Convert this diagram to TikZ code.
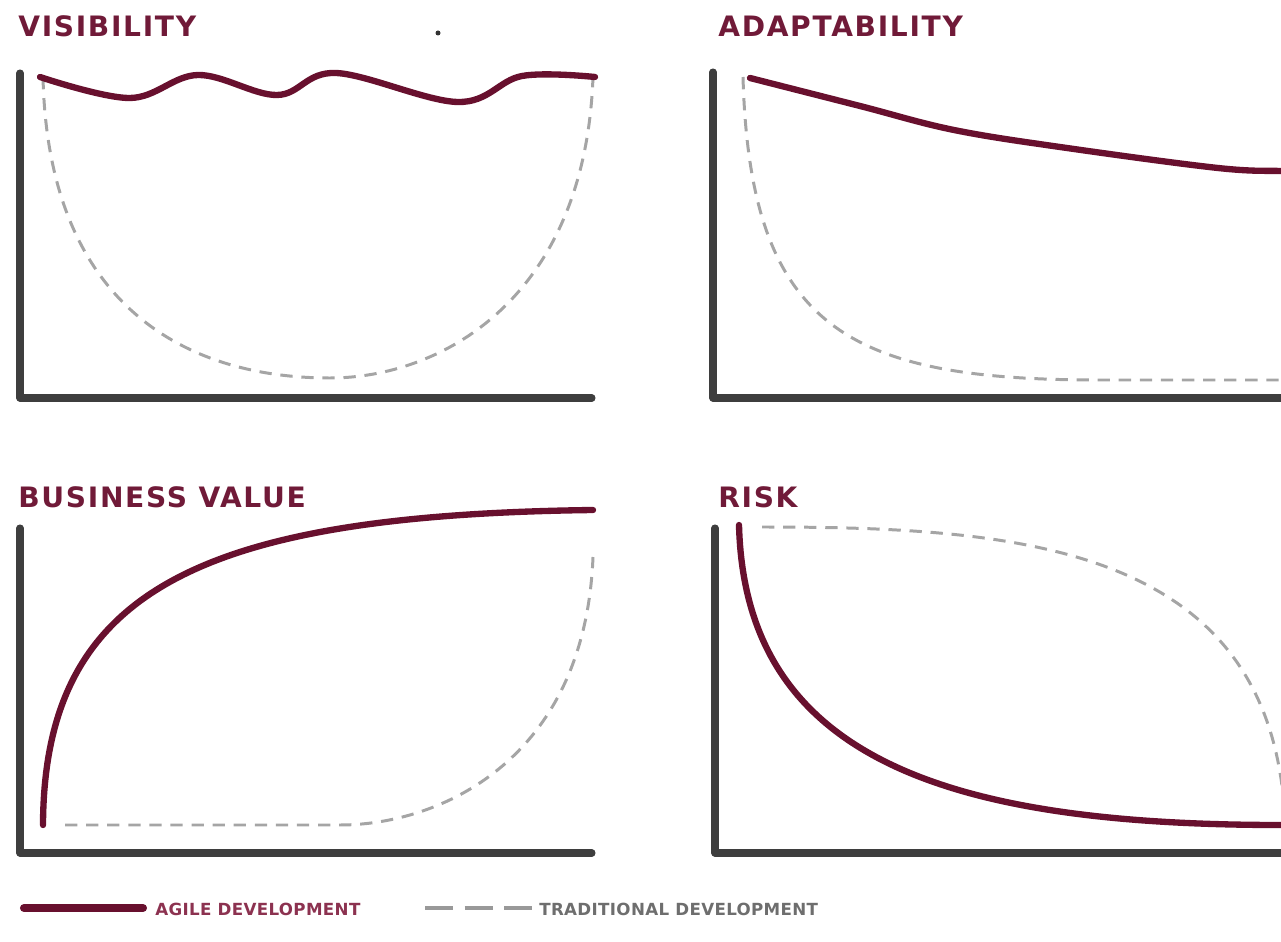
\documentclass[tikz,border=0pt]{standalone}
\usepackage{fontspec}
\setmainfont{DejaVu Sans}
\usetikzlibrary{positioning}

\definecolor{agile}{RGB}{104,16,46}
\definecolor{titlered}{RGB}{112,26,56}
\definecolor{tradgray}{RGB}{165,165,165}
\definecolor{axisgray}{RGB}{62,62,62}
\definecolor{legendred}{RGB}{140,50,80}
\definecolor{legendgray}{RGB}{110,110,110}

\begin{document}
\begin{tikzpicture}[x=0.02cm, y=-0.02cm,
    axisline/.style={draw=axisgray, line width=4pt, line cap=round, line join=round},
    agileline/.style={draw=agile, line width=3.6pt, line cap=round},
    tradline/.style={draw=tradgray, line width=1.7pt, dash pattern=on 7pt off 5pt},
    charttitle/.style={inner sep=0pt, anchor=base west, text=titlered,
        font=\fontsize{16}{18}\selectfont\bfseries\addfontfeature{LetterSpace=6}},
    legendtext/.style={inner sep=0pt, anchor=west,
        font=\fontsize{9.5}{11}\selectfont\bfseries\addfontfeature{LetterSpace=2}}]

    % canvas
    \useasboundingbox (0,0) rectangle (1281,942);
    \clip (0,0) rectangle (1281,942);

    % --- titles ---
    \node[charttitle] (tVis)  at (18,37)   {VISIBILITY};
    \node[charttitle] (tAdapt) at (718,37) {ADAPTABILITY};
    \node[charttitle] (tValue) at (18,507) {BUSINESS VALUE};
    \node[charttitle] (tRisk) at (718,507) {RISK};
    \node[circle, fill=black!80, inner sep=0pt, minimum size=0.1cm] (dot) at (438,33) {};

    % --- axes: x0/y0/ytop/xend ---
    \foreach \ax/\ay/\yt/\xe in {20/398/73/592, 713/398/72/1300, 20/853/528/592, 715/853/528/1300} {%
        \draw[axisline] (\ax,\yt) -- (\ax,\ay) -- (\xe,\ay);%
    }

    % --- visibility ---
    \draw[tradline] (43,77) .. controls (48,300) and (180,378) .. (330,378)
        .. controls (440,378) and (585,300) .. (593,77);
    \draw[agileline] plot[smooth, tension=0.6] coordinates
        {(40,77) (130,98) (198,75) (277,95) (336,73) (458,102) (522,76) (595,77)};

    % --- adaptability ---
    \draw[tradline] (743,77) .. controls (750,330) and (850,380) .. (1100,380) -- (1300,380);
    \draw[agileline] plot[smooth, tension=0.6] coordinates
        {(750,78) (860,106) (954,130) (1067,148) (1218,168) (1281,171) (1300,171)};

    % --- business value ---
    \draw[tradline] (65,825) -- (340,825) .. controls (440,825) and (585,760) .. (593,557);
    \draw[agileline] (43,825) .. controls (44,590) and (200,515) .. (593,510);

    % --- risk ---
    \draw[tradline] (762,527) .. controls (1020,527) and (1272,545) .. (1285,820);
    \draw[agileline] (739,525) .. controls (745,760) and (950,825) .. (1281,825) -- (1300,825);

    % --- legend ---
    \draw[agileline, line width=4.6pt] (24,908) -- (143,908);
    \node[legendtext, text=legendred] (lAgile) at (155,909) {AGILE DEVELOPMENT};
    \draw[draw=black!40, line width=2.8pt, dash pattern=on 16pt off 6.5pt] (425,908) -- (533,908);
    \node[legendtext, text=legendgray] (lTrad) at (539,909) {TRADITIONAL DEVELOPMENT};

\end{tikzpicture}
\end{document}
